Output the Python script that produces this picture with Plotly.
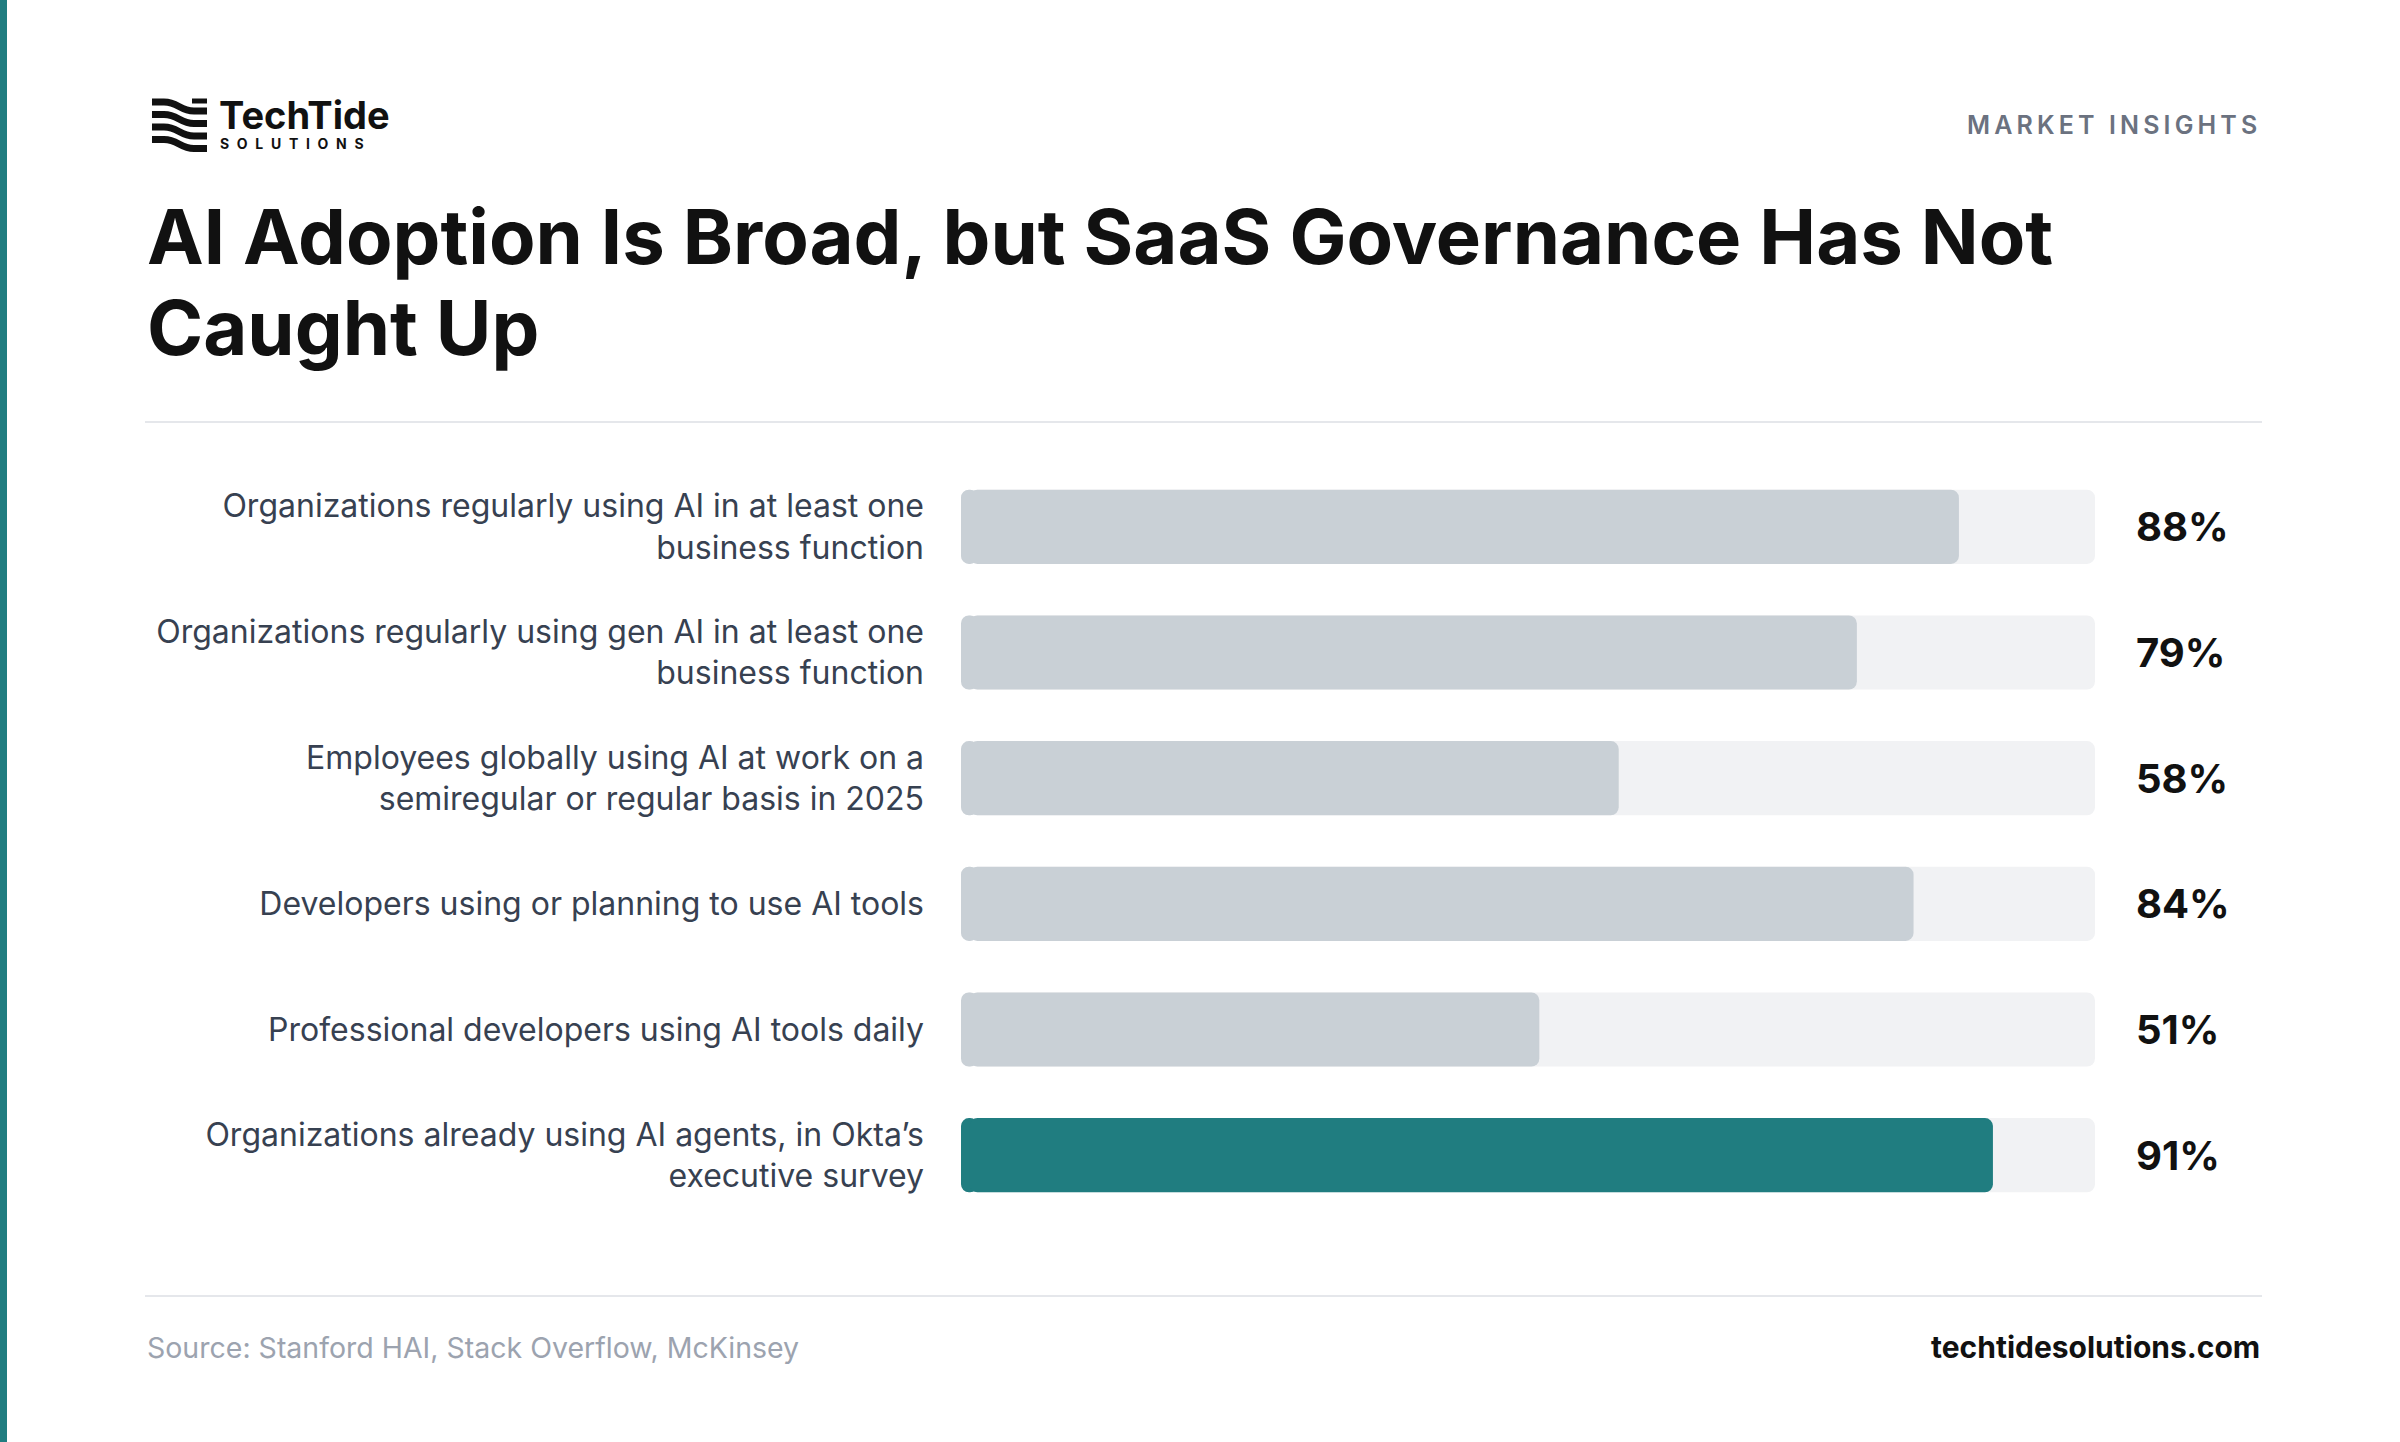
import plotly.graph_objects as go

# ---------------- data ----------------
labels = [
    "Organizations regularly using AI in at least one<br>business function",
    "Organizations regularly using gen AI in at least one<br>business function",
    "Employees globally using AI at work on a<br>semiregular or regular basis in 2025",
    "Developers using or planning to use AI tools",
    "Professional developers using AI tools daily",
    "Organizations already using AI agents, in Okta’s<br>executive survey",
]
values = [88, 79, 58, 84, 51, 91]
highlight = [False, False, False, False, False, True]
value_text = [f"{v}%" for v in values]
track_max = 100

title_lines = ["AI Adoption Is Broad, but SaaS Governance Has Not", "Caught Up"]
source_text = "Source: Stanford HAI, Stack Overflow, McKinsey"
site_text = "techtidesolutions.com"
kicker_text = "MARKET INSIGHTS"
brand_name = "TechTide"
brand_sub = "SOLUTIONS"

# ---------------- style ----------------
W, H = 2400, 1442
TEAL = "#207d80"
GRAY_BAR = "#c9d0d6"
TRACK = "#f1f2f4"
LABEL_C = "#374151"
DARK = "#111111"
FONT = "Inter"

def px(x):
    return x / W

def py(y):
    return 1 - y / H

n = len(values)
bar_colors = [TEAL if h else GRAY_BAR for h in highlight]
CAP = 1.5          # small left cap so that both ends get rounded corners
BASE = CAP / 2
RADIUS = 8
BW = 0.59

fig = go.Figure()
# track: left cap + body
fig.add_trace(go.Bar(y=labels, x=[-CAP] * n, base=[CAP] * n, orientation="h",
                     width=BW, marker=dict(color=TRACK, cornerradius=RADIUS, line_width=0),
                     hoverinfo="skip"))
fig.add_trace(go.Bar(y=labels, x=[track_max - BASE] * n, base=[BASE] * n, orientation="h",
                     width=BW, marker=dict(color=TRACK, cornerradius=RADIUS, line_width=0),
                     hoverinfo="skip"))
# values: left cap + body
fig.add_trace(go.Bar(y=labels, x=[-CAP] * n, base=[CAP] * n, orientation="h",
                     width=BW, marker=dict(color=bar_colors, cornerradius=RADIUS, line_width=0),
                     hoverinfo="skip"))
fig.add_trace(go.Bar(y=labels, x=[v - BASE for v in values], base=[BASE] * n, orientation="h",
                     width=BW, marker=dict(color=bar_colors, cornerradius=RADIUS, line_width=0),
                     customdata=values, hovertemplate="%{customdata}%<extra></extra>"))

annotations = []
for lab, txt in zip(labels, value_text):
    annotations.append(dict(x=track_max, y=lab, xref="x", yref="y", text=txt,
                            xanchor="left", yanchor="middle", xshift=39, showarrow=False,
                            font=dict(family=FONT, size=40, weight=700, color=DARK)))

# title (one annotation per line to control line spacing)
for i, line in enumerate(title_lines):
    annotations.append(dict(x=px(145), y=py(236 + 91 * i), xref="paper", yref="paper",
                            text=line, align="left",
                            xanchor="left", yanchor="middle", showarrow=False,
                            font=dict(family=FONT, size=76, weight=700, color=DARK)))
# brand
annotations.append(dict(x=px(217), y=py(115), xref="paper", yref="paper", text=brand_name,
                        xanchor="left", yanchor="middle", showarrow=False,
                        font=dict(family=FONT, size=38, weight=700, color=DARK)))
annotations.append(dict(x=px(218), y=py(144), xref="paper", yref="paper",
                        text="\u2009\u2009\u2009\u200a".join(brand_sub),
                        xanchor="left", yanchor="middle", showarrow=False,
                        font=dict(family=FONT, size=14, weight=700, color=DARK)))
annotations.append(dict(x=px(2259), y=py(125), xref="paper", yref="paper",
                        text="\u2009".join(kicker_text),
                        xanchor="right", yanchor="middle", showarrow=False,
                        font=dict(family=FONT, size=25, weight=600, color="#6b7280")))
# footer
annotations.append(dict(x=px(145), y=py(1347), xref="paper", yref="paper", text=source_text,
                        xanchor="left", yanchor="middle", showarrow=False,
                        font=dict(family=FONT, size=28.5, color="#9ca3af")))
annotations.append(dict(x=px(2262), y=py(1347), xref="paper", yref="paper", text=site_text,
                        xanchor="right", yanchor="middle", showarrow=False,
                        font=dict(family=FONT, size=30, weight=700, color=DARK)))

shapes = [
    dict(type="rect", xref="paper", yref="paper", x0=0, x1=px(7), y0=0, y1=1,
         fillcolor=TEAL, line_width=0, layer="below"),
    dict(type="line", xref="paper", yref="paper", x0=px(145), x1=px(2262),
         y0=py(422), y1=py(422), line=dict(color="#e5e7eb", width=2)),
    dict(type="line", xref="paper", yref="paper", x0=px(145), x1=px(2262),
         y0=py(1296), y1=py(1296), line=dict(color="#e5e7eb", width=2)),
]

# logo: wavy stripes
def wave_path(y0):
    pts = [
        ("M", [(152, y0)]),
        ("L", [(164, y0)]),
        ("C", [(178, y0), (180, y0 + 9), (194, y0 + 9)]),
        ("L", [(207, y0 + 9)]),
    ]
    s = ""
    for cmd, ps in pts:
        s += cmd + " " + " ".join(f"{px(x):.5f},{py(y):.5f}" for x, y in ps) + " "
    return s.strip()

for i in range(4):
    shapes.append(dict(type="path", xref="paper", yref="paper", path=wave_path(102 + 12.5 * i),
                       line=dict(color=DARK, width=7), fillcolor="rgba(0,0,0,0)"))
shapes.append(dict(type="line", xref="paper", yref="paper", x0=px(192), x1=px(207),
                   y0=py(101), y1=py(101), line=dict(color=DARK, width=5)))

fig.update_layout(
    width=W, height=H,
    margin=dict(l=0, r=0, t=0, b=0),
    paper_bgcolor="white", plot_bgcolor="white",
    barmode="overlay", showlegend=False,
    xaxis=dict(domain=[px(961), px(2095)], range=[0, track_max], visible=False, fixedrange=True),
    yaxis=dict(domain=[py(1218), py(464)], type="category", categoryorder="array",
               categoryarray=labels, range=[n - 0.5, -0.5], showgrid=False, zeroline=False,
               showline=False, ticks="", ticklabelstandoff=36, fixedrange=True,
               tickfont=dict(family=FONT, size=32, color=LABEL_C)),
    annotations=annotations,
    shapes=shapes,
)

fig.write_html("out.html")
